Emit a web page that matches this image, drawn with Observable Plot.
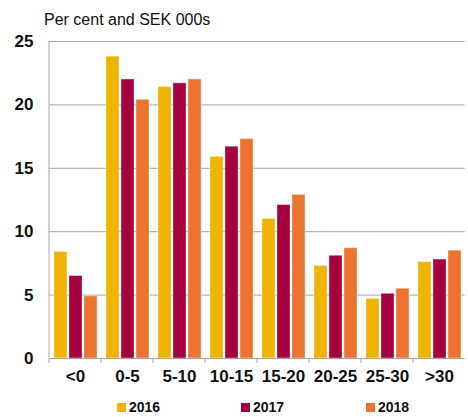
<!DOCTYPE html>
<html>
<head>
<meta charset="utf-8">
<script src="https://cdn.jsdelivr.net/npm/d3@7"></script>
<script src="https://cdn.jsdelivr.net/npm/@observablehq/plot@0.6"></script>
<style>
  body { margin: 0; background: #fff; font-family: "Liberation Sans", Arial, sans-serif; }
  #wrap { position: relative; width: 468px; height: 417px; overflow: hidden; }
  #sub { position: absolute; left: 44px; top: 11px; font-size: 16px; color: #111; }
  #chart { position: absolute; left: 0; top: 0; }
  .lg { position: absolute; top: 399px; font-size: 14px; line-height: 16px; font-weight: bold; color: #111; display: flex; align-items: center; }
  .lg i { display: inline-block; width: 9px; height: 9px; margin-right: 3px; }
</style>
</head>
<body>
<div id="wrap">
  <div id="chart"></div>
  <div id="sub">Per cent and SEK 000s</div>
  <div id="legend"></div>
</div>
<script>
const categories = ["<0", "0-5", "5-10", "10-15", "15-20", "20-25", "25-30", ">30"];
const years = ["2016", "2017", "2018"];
const v2016 = [8.4, 23.8, 21.4, 15.9, 11.0, 7.3, 4.7, 7.6];
const v2017 = [6.5, 22.0, 21.7, 16.7, 12.1, 8.1, 5.1, 7.8];
const v2018 = [4.9, 20.4, 22.0, 17.3, 12.9, 8.7, 5.5, 8.5];
const yTicks = [0, 5, 10, 15, 20, 25];
const colors = ["#f0b400", "#a50040", "#ed7430"];

const series = [v2016, v2017, v2018];
const data = [];
categories.forEach((c, i) => {
  years.forEach((y, j) => data.push({category: c, year: y, value: series[j][i]}));
});

const grey = "#a6a6a6";

let chart = Plot.plot({
  width: 468,
  height: 392,
  marginLeft: 45,
  marginRight: 0,
  marginTop: 41,
  marginBottom: 34,
  style: {fontFamily: "Liberation Sans, Arial, sans-serif", color: "#111", background: "transparent"},
  fx: {domain: categories, padding: 0, label: null},
  x: {domain: years, paddingInner: 0.16, paddingOuter: 0.3, axis: null},
  y: {domain: [0, 25]},
  color: {domain: years, range: colors},
  marks: [
    Plot.gridY(yTicks.slice(1), {stroke: grey, strokeOpacity: 1}),
    Plot.barY(data, {fx: "category", x: "year", y: "value", fill: "year",
      stroke: "white", strokeOpacity: 0.35, strokeWidth: 1}),
    Plot.ruleY([0], {stroke: grey}),
    Plot.axisY({ticks: yTicks, tickSize: 0, tickPadding: 16, fontSize: 17, fontWeight: "bold", label: null}),
    Plot.axisFx({anchor: "bottom", tickSize: 0, tickPadding: 11, fontSize: 17, fontWeight: "bold", label: null})
  ]
});

// axis line on the left and tick marks between the categories
const fx = chart.scale("fx");
const ys = chart.scale("y");
const svg = d3.select(chart);
const y0 = ys.apply(0), y25 = ys.apply(25);
const x0 = fx.apply(categories[0]);
svg.append("line").attr("x1", x0).attr("x2", x0).attr("y1", y25).attr("y2", y0 + 5)
  .attr("stroke", grey);
categories.slice(1).forEach(c => {
  const x = fx.apply(c);
  svg.append("line").attr("x1", x).attr("x2", x).attr("y1", y0).attr("y2", y0 + 5)
    .attr("stroke", grey);
});

d3.select("#chart").append(() => chart);

// legend
const legendX = [117, 241, 366];
years.forEach((y, i) => {
  const item = d3.select("#legend").append("div").attr("class", "lg").style("left", legendX[i] + "px");
  item.append("i").style("background", colors[i]);
  item.append("span").text(y);
});
</script>
</body>
</html>
